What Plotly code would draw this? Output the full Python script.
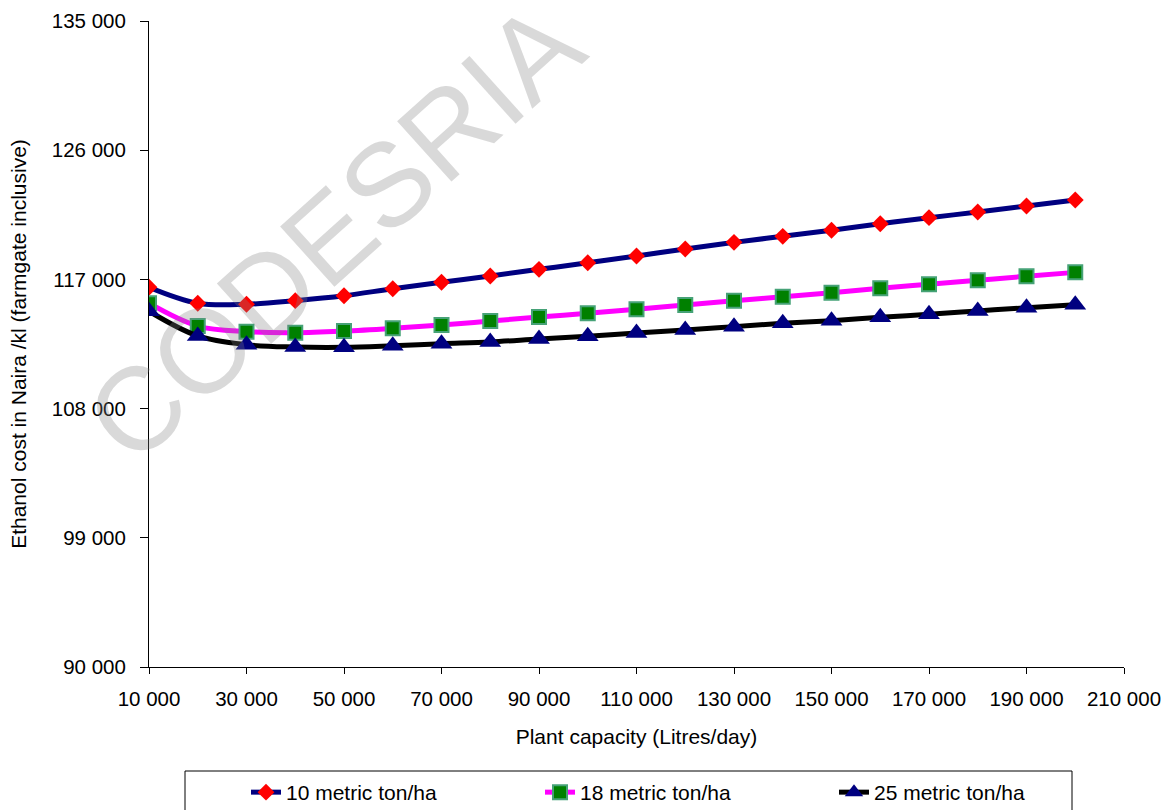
import plotly.graph_objects as go

# Plant capacity (litres/day)
capacity = [10000, 20000, 30000, 40000, 50000, 60000, 70000, 80000, 90000, 100000,
            110000, 120000, 130000, 140000, 150000, 160000, 170000, 180000, 190000, 200000]

# Ethanol cost (Naira/kl, farmgate inclusive) by cane yield
cost_10t = [116450, 115340, 115270, 115520, 115860, 116350, 116800, 117240, 117700, 118160,
            118630, 119120, 119580, 120000, 120420, 120880, 121300, 121690, 122110, 122530]
cost_18t = [115340, 113750, 113360, 113290, 113400, 113590, 113820, 114100, 114380, 114640,
            114920, 115220, 115520, 115790, 116070, 116380, 116660, 116940, 117220, 117490]
cost_25t = [114780, 113060, 112450, 112290, 112270, 112380, 112520, 112640, 112850, 113040,
            113270, 113480, 113710, 113940, 114120, 114360, 114570, 114800, 115030, 115240]

series_names = ["10 metric ton/ha", "18 metric ton/ha", "25 metric ton/ha"]

x_ticks = list(range(10000, 210001, 20000))
y_ticks = list(range(90000, 135001, 9000))

FONT = "Liberation Sans, Arial, sans-serif"
W, H = 1172, 810
M_L, M_R, M_T, M_B = 149, 48, 21, 143
PLOT_W, PLOT_H = W - M_L - M_R, H - M_T - M_B


def px_to_paper_x(px):
    return (px - M_L) / PLOT_W


def px_to_paper_y(py):
    return (H - M_B - py) / PLOT_H


fig = go.Figure()

fig.add_trace(go.Scatter(
    x=capacity, y=cost_10t, name=series_names[0], mode="lines+markers",
    line=dict(color="#000080", width=5, shape="spline", smoothing=1),
    marker=dict(symbol="diamond", size=13, color="#FF0000", line=dict(width=0)),
))
fig.add_trace(go.Scatter(
    x=capacity, y=cost_18t, name=series_names[1], mode="lines+markers",
    line=dict(color="#FF00FF", width=5, shape="spline", smoothing=1),
    marker=dict(symbol="square", size=14, color="#008000",
                line=dict(width=2, color="#46A277")),
))
fig.add_trace(go.Scatter(
    x=capacity, y=cost_25t, name=series_names[2], mode="lines+markers",
    line=dict(color="#000000", width=5, shape="spline", smoothing=1),
    marker=dict(symbol="triangle-up", size=19, color="#000080", line=dict(width=0)),
))

# Watermark across the upper-left of the plot
fig.add_annotation(
    text="CODESRIA", xref="paper", yref="paper", x=0.19, y=0.673,
    xanchor="center", yanchor="middle", showarrow=False, textangle=-42,
    font=dict(family=FONT, size=118, color="rgba(128,128,128,0.3)"),
)

# Frame around the legend row
fig.add_shape(
    type="rect", xref="paper", yref="paper",
    x0=px_to_paper_x(185), x1=px_to_paper_x(1072),
    y0=px_to_paper_y(771), y1=px_to_paper_y(830),
    line=dict(color="black", width=1), fillcolor="white", layer="below",
)

fig.update_layout(
    width=W, height=H,
    margin=dict(l=M_L, r=M_R, t=M_T, b=M_B, autoexpand=False),
    paper_bgcolor="white", plot_bgcolor="white",
    separators=". ",
    font=dict(family=FONT, size=21, color="black"),
    showlegend=True,
    legend=dict(
        orientation="h", xref="container", yref="container",
        x=246 / W, y=1 - 772 / H, xanchor="left", yanchor="top",
        borderwidth=0, bgcolor="rgba(0,0,0,0)",
        font=dict(family=FONT, size=21, color="black"),
        entrywidth=249, entrywidthmode="pixels",
        itemsizing="trace",
    ),
)

fig.update_xaxes(
    range=[10000, 210000], tickvals=x_ticks, tickformat=",d",
    showgrid=False, zeroline=False,
    showline=True, linecolor="black", linewidth=1,
    ticks="outside", ticklen=6, tickcolor="black", ticklabelstandoff=7,
    tickfont=dict(family=FONT, size=20.5, color="black"),
    title=dict(text="Plant capacity (Litres/day)", standoff=20,
               font=dict(family=FONT, size=21, color="black")),
)
fig.update_yaxes(
    range=[90000, 135000], tickvals=y_ticks, tickformat=",d",
    showgrid=False, zeroline=False,
    showline=True, linecolor="black", linewidth=1,
    ticks="outside", ticklen=8, tickcolor="black", ticklabelstandoff=10,
    tickfont=dict(family=FONT, size=20.5, color="black"),
    title=dict(text="Ethanol cost in Naira /kl (farmgate inclusive)", standoff=19,
               font=dict(family=FONT, size=21, color="black")),
)

fig.write_html("out.html")
